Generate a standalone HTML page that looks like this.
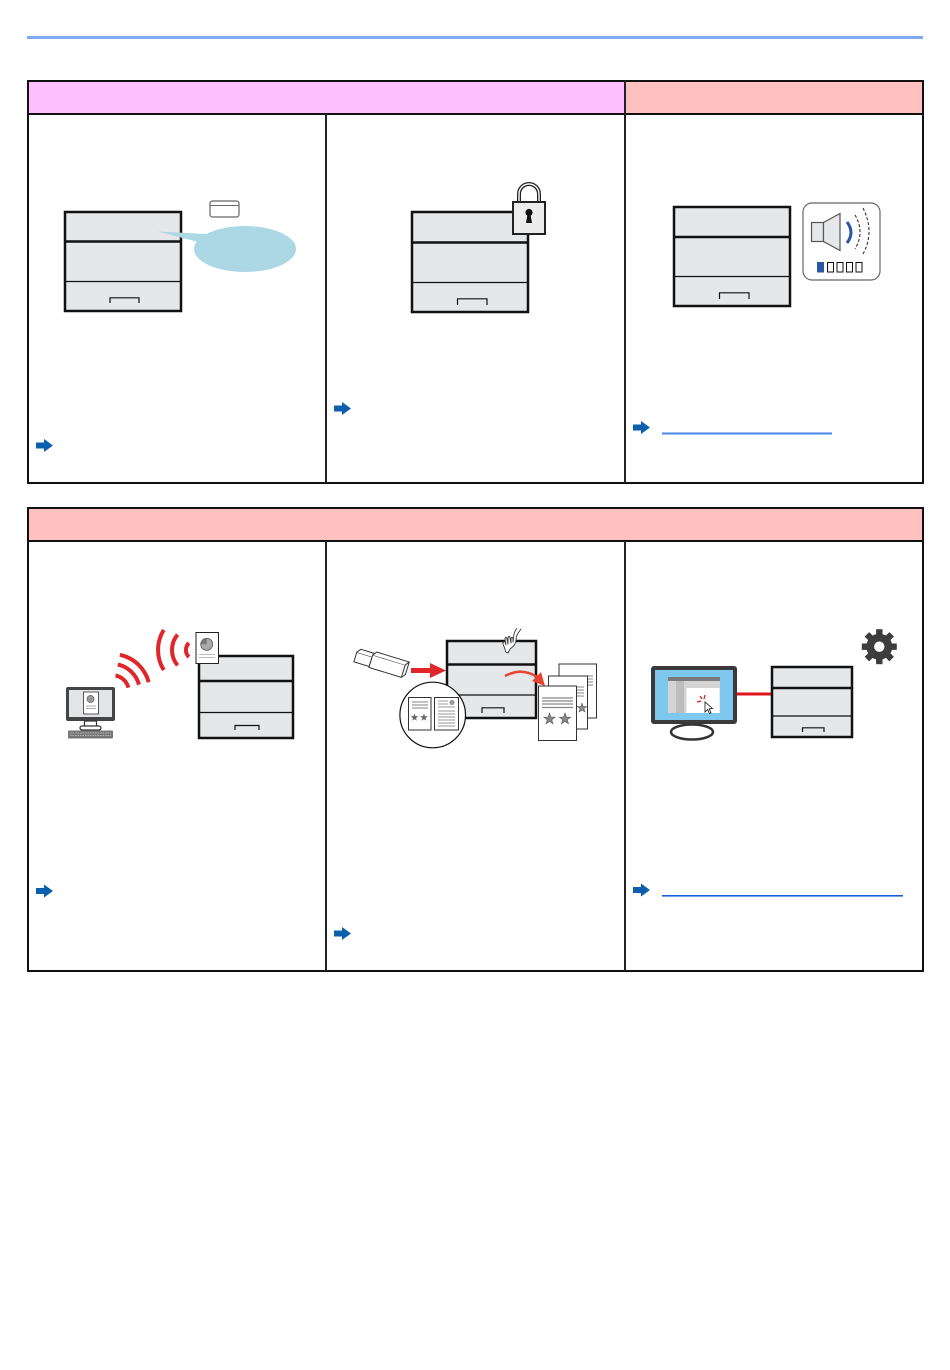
<!DOCTYPE html>
<html><head><meta charset="utf-8"><style>
html,body{margin:0;padding:0;background:#fff;}
svg{display:block;}
</style></head><body>
<svg width="950" height="1370" viewBox="0 0 950 1370" xmlns="http://www.w3.org/2000/svg">
<defs>
<polygon id="star" points="0,-4.5 1.06,-1.46 4.28,-1.39 1.71,0.56 2.65,3.64 0,1.8 -2.65,3.64 -1.71,0.56 -4.28,-1.39 -1.06,-1.46"/>
</defs>
<rect x="0" y="0" width="950" height="1370" fill="#fff"/>
<!-- top rule -->
<rect x="27" y="36" width="896" height="3" fill="#7eaaf4"/>

<!-- TABLE 1 -->
<rect x="28" y="80" width="597" height="34" fill="#ffbfff"/>
<rect x="625" y="80" width="298" height="34" fill="#ffc0c0"/>
<rect x="28" y="81" width="895" height="402" fill="none" stroke="#111" stroke-width="2"/>
<line x1="28" y1="114" x2="923" y2="114" stroke="#111" stroke-width="2"/>
<line x1="326" y1="114" x2="326" y2="483" stroke="#222" stroke-width="2"/>
<line x1="625" y1="80" x2="625" y2="483" stroke="#222" stroke-width="2"/>

<!-- TABLE 2 -->
<rect x="28" y="507" width="895" height="34" fill="#ffc0c0"/>
<rect x="28" y="508" width="895" height="463" fill="none" stroke="#111" stroke-width="2"/>
<line x1="28" y1="541" x2="923" y2="541" stroke="#111" stroke-width="2"/>
<line x1="326" y1="541" x2="326" y2="971" stroke="#222" stroke-width="2"/>
<line x1="625" y1="541" x2="625" y2="971" stroke="#222" stroke-width="2"/>

<!-- blue arrows -->
<g fill="#0b5fad">
<path d="M36,442.5 H44 V439 L53,445.5 L44,452 V448.5 H36 Z"/>
<path d="M334,405.5 H342 V402 L351,408.5 L342,415 V411.5 H334 Z"/>
<path d="M633,424.5 H641 V421 L650,427.5 L641,434 V430.5 H633 Z"/>
<path d="M36,888 H44 V884.5 L53,891 L44,897.5 V894 H36 Z"/>
<path d="M334,930.5 H342 V927 L351,933.5 L342,940 V936.5 H334 Z"/>
<path d="M633,887 H641 V883.5 L650,890 L641,896.5 V893 H633 Z"/>
</g>
<!-- link underlines -->
<rect x="662" y="432.5" width="170" height="2" fill="#4a86e8"/>
<rect x="662" y="895" width="241" height="1.6" fill="#1560e0"/>

<!-- ===== R1C1 ===== -->
<g stroke="#111" fill="none">
<rect x="65" y="212" width="116" height="99" fill="#e6e7e8" stroke-width="2.5"/>
<line x1="65" y1="241.5" x2="181" y2="241.5" stroke-width="2.5"/>
<line x1="65" y1="281.5" x2="181" y2="281.5" stroke-width="1.3"/>
<path d="M110,303 V297.8 H139 V303" stroke-width="1.2"/>
</g>
<polygon points="158,231.5 206,234 202,243" fill="#acd7e5"/>
<ellipse cx="245" cy="249" rx="51" ry="23" fill="#acd7e5"/>
<rect x="210" y="201" width="29" height="16" rx="2.5" fill="#fff" stroke="#666" stroke-width="1.2"/>
<line x1="210.5" y1="205.5" x2="238.5" y2="205.5" stroke="#666" stroke-width="1"/>

<!-- ===== R1C2 ===== -->
<g stroke="#111" fill="none">
<rect x="412" y="212" width="116" height="100" fill="#e6e7e8" stroke-width="2.5"/>
<line x1="412" y1="242.5" x2="528" y2="242.5" stroke-width="2.5"/>
<line x1="412" y1="282.5" x2="528" y2="282.5" stroke-width="1.3"/>
<path d="M457.5,305 V298.8 H487 V305" stroke-width="1.2"/>
</g>
<path d="M519,202 V194 A10,10 0 0 1 539,194 V202" fill="none" stroke="#222" stroke-width="4"/>
<path d="M519,202 V194 A10,10 0 0 1 539,194 V202" fill="none" stroke="#fff" stroke-width="1.4"/>
<rect x="513" y="202" width="32" height="32" fill="#ececec" stroke="#222" stroke-width="2"/>
<circle cx="529" cy="212.5" r="3.6" fill="#111"/>
<polygon points="527.6,214 530.4,214 532,223 526,223" fill="#111"/>

<!-- ===== R1C3 ===== -->
<g stroke="#111" fill="none">
<rect x="674" y="207" width="116" height="99" fill="#e6e7e8" stroke-width="2.5"/>
<line x1="674" y1="237" x2="790" y2="237" stroke-width="2.5"/>
<line x1="674" y1="276.5" x2="790" y2="276.5" stroke-width="1.3"/>
<path d="M719.5,299 V292.8 H749 V299" stroke-width="1.2"/>
</g>
<rect x="803" y="203" width="77" height="77" rx="9" fill="#fff" stroke="#666" stroke-width="1.2"/>
<rect x="811.5" y="222.5" width="12" height="19" fill="#e6e7e8" stroke="#555" stroke-width="1.2"/>
<polygon points="823.5,222.5 840,213.5 840,250.5 823.5,241.5" fill="#e6e7e8" stroke="#555" stroke-width="1.2"/>
<path d="M847,222 Q855,232.5 847,243" fill="none" stroke="#2a56a8" stroke-width="3"/>
<path d="M855,215 Q865,232 855,249" fill="none" stroke="#333" stroke-width="1.1" stroke-dasharray="3,2"/>
<path d="M863,208 Q875,232 863,254" fill="none" stroke="#333" stroke-width="1.1" stroke-dasharray="3,2"/>
<rect x="817" y="262" width="7" height="10.5" fill="#2a56a8"/>
<g fill="#fff" stroke="#111" stroke-width="1">
<rect x="827.5" y="262.5" width="6" height="9.5"/>
<rect x="837" y="262.5" width="6" height="9.5"/>
<rect x="846.5" y="262.5" width="6" height="9.5"/>
<rect x="856" y="262.5" width="6" height="9.5"/>
</g>

<!-- ===== R2C1 ===== -->
<g fill="none" stroke="#e0262a" stroke-width="4">
<path d="M188.9,642.9 A10,10 0 0 0 188.9,657.1"/>
<path d="M177.6,634.6 A24,24 0 0 0 177.6,665.4"/>
<path d="M163.8,629.9 A38,38 0 0 0 163.8,670.1"/>
<path d="M119.9,654.8 A38,38 0 0 1 148.7,682.2"/>
<path d="M117.8,664.6 A28,28 0 0 1 139,684.7"/>
<path d="M115.5,675.4 A17,17 0 0 1 128.4,687.6"/>
</g>
<g stroke="#111" fill="none">
<rect x="199" y="656" width="94" height="82" fill="#e6e7e8" stroke-width="2.5"/>
<line x1="199" y1="681" x2="293" y2="681" stroke-width="2.5"/>
<line x1="199" y1="712.5" x2="293" y2="712.5" stroke-width="1.3"/>
<path d="M235,730 V725.5 H259 V730" stroke-width="1.2"/>
</g>
<rect x="196" y="632.5" width="22.5" height="31" fill="#fff" stroke="#222" stroke-width="1"/>
<circle cx="206.7" cy="644.3" r="6" fill="#aaa" stroke="#555" stroke-width="0.8"/>
<path d="M206.7,644.3 V638.3 A6,6 0 0 0 200.7,644.3 Z" fill="#777"/>
<line x1="199" y1="654.5" x2="215" y2="654.5" stroke="#bbb" stroke-width="1"/>
<line x1="199" y1="657.5" x2="215" y2="657.5" stroke="#bbb" stroke-width="1"/>
<!-- monitor -->
<rect x="66" y="687" width="49" height="34" rx="2" fill="#444"/>
<rect x="69" y="690" width="43" height="27" fill="#e3e4e5"/>
<rect x="83.5" y="692" width="15" height="22" fill="#fff" stroke="#333" stroke-width="0.8"/>
<circle cx="90.5" cy="699" r="3.6" fill="#999" stroke="#555" stroke-width="0.6"/>
<line x1="86" y1="706" x2="96" y2="706" stroke="#aaa"/>
<line x1="86" y1="708.5" x2="96" y2="708.5" stroke="#aaa"/>
<rect x="84.5" y="721" width="12" height="6" fill="#fff" stroke="#333" stroke-width="1.2"/>
<rect x="80" y="726" width="21" height="4" rx="2" fill="#fff" stroke="#333" stroke-width="1.2"/>
<rect x="68" y="730.5" width="45" height="8" rx="1" fill="#777"/>
<g stroke="#ccc" stroke-width="0.7">
<line x1="70" y1="733" x2="111" y2="733" stroke-dasharray="1.5,1"/>
<line x1="70" y1="735.5" x2="111" y2="735.5" stroke-dasharray="1.5,1"/>
</g>

<!-- ===== R2C2 ===== -->
<!-- USB -->
<g transform="rotate(17 378 665)" stroke="#333" stroke-width="1" fill="#fff">
<rect x="354" y="659" width="16" height="10"/>
<path d="M354,659 L357,655 H373 L370,659"/>
<rect x="370" y="657" width="34" height="13"/>
<path d="M370,657 L373,653 H407 L404,657"/>
<path d="M404,670 L407,666 V653"/>
</g>
<!-- red arrow -->
<polygon points="411,668 430,668 430,663 446,670.5 430,678 430,673 411,673" fill="#e0262a"/>
<!-- printer -->
<g stroke="#111" fill="none">
<rect x="447" y="641" width="89" height="77" fill="#e6e7e8" stroke-width="2.5"/>
<line x1="447" y1="664.5" x2="536" y2="664.5" stroke-width="2.5"/>
<line x1="447" y1="695" x2="536" y2="695" stroke-width="1.3"/>
<path d="M482,713 V707.8 H504 V713" stroke-width="1.2"/>
</g>
<!-- hand -->
<g fill="#fff" stroke="#333" stroke-width="0.9" stroke-linejoin="round">
<path d="M521,629 C518,633 516,636 516,640 C516,644 513,647 510,649 L508,653 C506,653 505,651 505,649 L503,644 C503,642 504,641 505,642 L506,645 L505,639 C505,637 507,637 507,639 L508,644 L508,638 C508,636 510,636 510,638 L511,643 L511,639 C511,637 513,637 513,639 L513,642 C514,637 513,633 517,628"/>
</g>
<!-- curved arrow -->
<path d="M505,676 Q522,667 537,677" fill="none" stroke="#e8432e" stroke-width="2.5"/>
<polygon points="545,686 532,681 541,672" fill="#e8432e"/>
<!-- circle with docs -->
<circle cx="432.7" cy="715" r="32.8" fill="#fff" stroke="#111" stroke-width="1.2"/>
<rect x="408.5" y="697.5" width="22.5" height="32.5" fill="#fff" stroke="#333" stroke-width="1"/>
<g stroke="#999" stroke-width="1.2">
<line x1="412" y1="702" x2="428" y2="702"/>
<line x1="412" y1="705" x2="428" y2="705"/>
<line x1="412" y1="708" x2="428" y2="708"/>
</g>
<use href="#star" transform="translate(414.5 717.5) scale(0.9)" fill="#666"/>
<use href="#star" transform="translate(424 717.5) scale(0.9)" fill="#666"/>
<rect x="434.5" y="697.5" width="24" height="32.5" fill="#fff" stroke="#333" stroke-width="1"/>
<circle cx="452" cy="702.5" r="2.6" fill="#999"/>
<g stroke="#999" stroke-width="1">
<line x1="438" y1="701" x2="448" y2="701"/>
<line x1="438" y1="704" x2="448" y2="704"/>
<line x1="438" y1="707" x2="455" y2="707"/>
<line x1="438" y1="711" x2="455" y2="711"/>
<line x1="438" y1="714" x2="455" y2="714"/>
<line x1="438" y1="717" x2="455" y2="717"/>
<line x1="438" y1="720" x2="455" y2="720"/>
<line x1="438" y1="723" x2="455" y2="723"/>
<line x1="438" y1="726" x2="455" y2="726"/>
</g>
<!-- pages stack -->
<rect x="559" y="664" width="37.5" height="54" fill="#fff" stroke="#333" stroke-width="1"/>
<g stroke="#999" stroke-width="1.2">
<line x1="585" y1="676" x2="593" y2="676"/>
<line x1="585" y1="679" x2="593" y2="679"/>
<line x1="585" y1="682" x2="593" y2="682"/>
<line x1="585" y1="685" x2="593" y2="685"/>
</g>
<rect x="548.5" y="676" width="39" height="53" fill="#fff" stroke="#333" stroke-width="1"/>
<g stroke="#999" stroke-width="1.2">
<line x1="577" y1="687" x2="584" y2="687"/>
<line x1="577" y1="690" x2="584" y2="690"/>
<line x1="577" y1="693" x2="584" y2="693"/>
<line x1="577" y1="696" x2="584" y2="696"/>
</g>
<use href="#star" transform="translate(582 708) scale(1.1)" fill="#888" stroke="#555" stroke-width="0.5"/>
<rect x="538.5" y="686" width="38" height="54.5" fill="#fff" stroke="#333" stroke-width="1"/>
<g stroke="#888" stroke-width="1.2">
<line x1="542" y1="698" x2="573" y2="698"/>
<line x1="542" y1="701" x2="573" y2="701"/>
<line x1="542" y1="704" x2="573" y2="704"/>
<line x1="542" y1="707.5" x2="573" y2="707.5"/>
</g>
<use href="#star" transform="translate(549.5 719) scale(1.3)" fill="#888" stroke="#555" stroke-width="0.5"/>
<use href="#star" transform="translate(565 719) scale(1.3)" fill="#888" stroke="#555" stroke-width="0.5"/>

<!-- ===== R2C3 ===== -->
<!-- gear -->
<g fill="#3d3d3d" transform="translate(879.3 646.7)">
<circle r="13"/>
<rect x="-3.2" y="-17.5" width="6.4" height="8"/>
<rect x="-3.2" y="-17.5" width="6.4" height="8" transform="rotate(45)"/>
<rect x="-3.2" y="-17.5" width="6.4" height="8" transform="rotate(90)"/>
<rect x="-3.2" y="-17.5" width="6.4" height="8" transform="rotate(135)"/>
<rect x="-3.2" y="-17.5" width="6.4" height="8" transform="rotate(180)"/>
<rect x="-3.2" y="-17.5" width="6.4" height="8" transform="rotate(225)"/>
<rect x="-3.2" y="-17.5" width="6.4" height="8" transform="rotate(270)"/>
<rect x="-3.2" y="-17.5" width="6.4" height="8" transform="rotate(315)"/>
<circle r="5.2" fill="#fff"/>
</g>
<!-- red cable -->
<line x1="737" y1="694" x2="772" y2="694" stroke="#e0141e" stroke-width="3"/>
<!-- monitor -->
<rect x="686" y="723" width="13" height="8" fill="#fff" stroke="#333" stroke-width="1.5"/>
<ellipse cx="692" cy="732" rx="21" ry="7.5" fill="#fff" stroke="#333" stroke-width="2.5"/>
<rect x="651" y="666" width="86" height="58" rx="3" fill="#3a3a3a"/>
<rect x="655" y="670" width="78" height="50" fill="#7ec8ef"/>
<rect x="668" y="677" width="52" height="36" fill="#d4d4d4"/>
<rect x="668" y="677" width="52" height="4" fill="#7a7a7a"/>
<rect x="676" y="681" width="8" height="32" fill="#bdbdbd"/>
<rect x="686.5" y="688" width="33" height="25" fill="#fff"/>
<g stroke="#e0141e" stroke-width="1.2">
<line x1="701" y1="701" x2="697" y2="702"/>
<line x1="702" y1="699" x2="700" y2="696"/>
<line x1="704" y1="699" x2="705" y2="695"/>
</g>
<polygon points="705,702 705,712 707.5,709.5 709.5,713.5 711,712.8 709,708.8 712.5,708.5" fill="#fff" stroke="#111" stroke-width="0.8"/>
<!-- printer -->
<g stroke="#111" fill="none">
<rect x="772" y="667" width="80" height="70" fill="#e6e7e8" stroke-width="2.5"/>
<line x1="772" y1="688" x2="852" y2="688" stroke-width="2.5"/>
<line x1="772" y1="716" x2="852" y2="716" stroke-width="1.3"/>
<path d="M802.5,732 V727.8 H824 V732" stroke-width="1.2"/>
</g>
</svg>
</body></html>
